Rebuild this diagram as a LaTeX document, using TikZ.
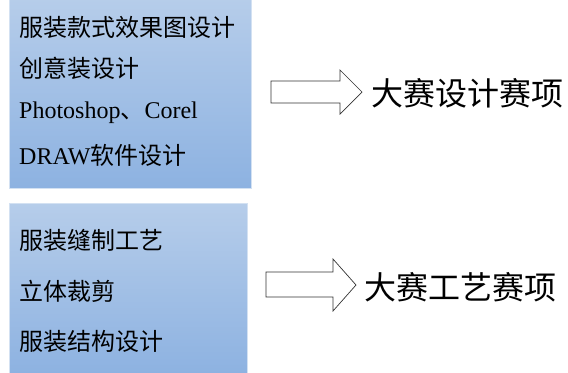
\documentclass[tikz,border=0pt]{standalone}
\usepackage{fontspec}
\setmainfont{Liberation Serif}
\newfontfamily\cjk{Noto Sans CJK SC}
\usepackage{tikz}
\usetikzlibrary{positioning}

\definecolor{boxtop}{HTML}{B6CDEA}
\definecolor{boxbot}{HTML}{8DB2E1}

\begin{document}
\begin{tikzpicture}[x=1bp,y=-1bp]
\tikzstyle{skill box}=[top color=boxtop, bottom color=boxbot, draw=boxtop!60!white, line width=0.6pt]
\tikzstyle{skill}=[anchor=west, inner sep=0pt, font=\fontsize{24bp}{24bp}\selectfont]
\tikzstyle{event}=[anchor=west, inner sep=0pt, font=\cjk\fontsize{32bp}{32bp}\selectfont]
\tikzstyle{block arrow}=[draw=black!80, line width=0.7pt, fill=white, line join=miter]
\useasboundingbox (0,0) rectangle (568,372);

% design group
	\shade[skill box] (9,-2) rectangle (251,188);
	\node[skill] (d1) at (19,27) {\cjk 服装款式效果图设计};
	\node[skill] (d2) at (19,68) {\cjk 创意装设计};
	\node[skill] (d3) at (19,113) {Photoshop{\cjk 、}Corel};
	\node[skill] (d4) at (19,155) {DRAW{\cjk 软件设计}};

	\draw[block arrow] (271,81) -- (340,81) -- (340,70) -- (362,92)
		-- (340,114) -- (340,103) -- (271,103) -- cycle;
	\node[event] (dsgn) at (371,93) {大赛设计赛项};

% craft group
	\shade[skill box] (9,203) rectangle (247,374);
	\node[skill] (c1) at (19,240) {\cjk 服装缝制工艺};
	\node[skill] (c2) at (19,291) {\cjk 立体裁剪};
	\node[skill] (c3) at (19,341) {\cjk 服装结构设计};

	\draw[block arrow] (266,272) -- (333,272) -- (333,259) -- (356,285)
		-- (333,311) -- (333,297) -- (266,297) -- cycle;
	\node[event] (crft) at (364,287) {大赛工艺赛项};

\end{tikzpicture}
\end{document}
